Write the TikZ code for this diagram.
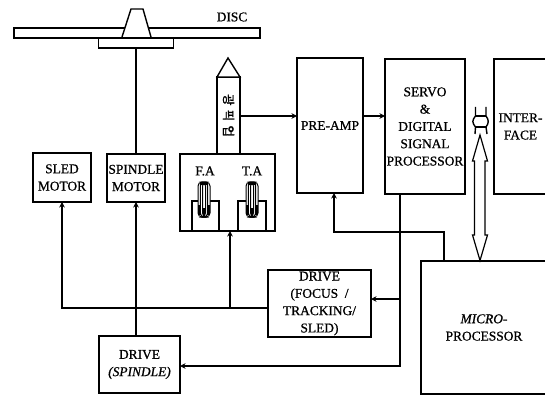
\documentclass[tikz,border=0pt]{standalone}
\usepackage{fontspec}
\usepackage{graphicx}
\setmainfont[RawFeature={embolden=0.8}]{Liberation Serif}
\newfontfamily\kofont[Script=Hangul,RawFeature={embolden=1.5}]{Noto Sans CJK KR}
\usetikzlibrary{arrows.meta}
\tikzset{
  blockbox/.style={draw=black,line width=1.4pt,fill=white,inner sep=0pt,outer sep=0pt,align=center,
     font=\fontsize{13.4}{17.3}\selectfont},
  conn/.style={draw=black,line width=1.5pt},
  arr/.style={conn,-{Stealth[length=5.5pt,width=5.5pt]}},
  lbl/.style={inner sep=0pt,font=\fontsize{13.4}{15}\selectfont},
  part/.style={draw=black,line width=1.4pt,fill=white,line join=miter},
  coilwire/.style={draw=black,line width=1pt,rounded corners=4pt},
}
\newcommand{\blk}[6][]{\node[blockbox,#1,minimum width=#4pt,minimum height=#5pt] (#2) at (#3) {#6};}
\newcommand{\coil}[1]{%
  \draw[coilwire,fill=white] (#1-6,182) rectangle (#1+6,217);
  \draw[coilwire] (#1-3.7,182) rectangle (#1+3.7,217);
  \draw[coilwire] (#1-1.5,182) rectangle (#1+1.5,217);
  \fill[black] (#1-6,205) rectangle (#1-3,215);
  \fill[black] (#1+3,205) rectangle (#1+6,215);
  \fill[black] (#1-1,208) rectangle (#1+1,216);
  \fill[black] (#1-4,182) rectangle (#1+4,184.5);
}
\begin{document}
\begin{tikzpicture}[x=1pt,y=-1pt]
\useasboundingbox (0,0) rectangle (545,398);
\clip (0,0) rectangle (545,398);
\fill[white] (0,0) rectangle (545,398);

% disc
\draw[part] (14,28) rectangle (260,38);
\fill[white] (122,37) -- (131,9) -- (143,9) -- (151,37) -- cycle;
\draw[part,fill=none] (122,37) -- (131,9) -- (143,9) -- (151,37);
\blk[line width=1.9pt]{plate}{136,43.3}{75}{10}{}
\node[lbl] (disc) at (232,17) {DISC};

% blocks
\blk{sled}{62,177.5}{58}{49}{SLED\\MOTOR}
\blk{spmotor}{136,178}{58}{48}{SPINDLE\\MOTOR}
\blk{actuator}{227.5,192.5}{95}{77}{}
\blk{pickup}{228.5,115.5}{23}{77}{\rotatebox[origin=c]{-90}{\kofont\fontsize{12.5}{13}\selectfont 광\,\,픽\,\,업}}
\blk{preamp}{330,125.5}{66}{135}{PRE-AMP}
\blk{servo}{425,126.5}{80}{135}{SERVO\\\&\\DIGITAL\\SIGNAL\\PROCESSOR}
\blk{iface}{520.5,126.5}{53}{135}{INTER-\\FACE}
\blk{micro}{484,327.5}{126}{133}{\textit{MICRO-}\\PROCESSOR}
\blk{drvfocus}{319.5,303.5}{103}{67}{DRIVE\\(FOCUS\ \ /\\TRACKING/\\SLED)}
\blk{drvspindle}{139.5,364.5}{81}{57}{DRIVE\\\textit{(SPINDLE)}}

% pickup tip
\draw[part] (pickup.north west) -- (228,58) -- (pickup.north east) -- cycle;

% actuator details
\node[lbl] (fa) at (205,171) {F.A};
\node[lbl] (ta) at (252,171) {T.A};
\draw[part,fill=none] (192,231) -- (192,201) -- (219,201) -- (219,231);
\draw[part,fill=none] (238,231) -- (238,201) -- (266,201) -- (266,231);
\coil{204}
\coil{252}

% connectors
\draw[conn] (plate.south) -- (plate.south |- spmotor.north);
\draw[arr] (pickup.east |- 0,116) -- (preamp.west |- 0,116);
\draw[arr] (preamp.east |- 0,116) -- (servo.west |- 0,116);
\coordinate (busend) at (drvfocus.west |- 0,308);
\draw[arr] (busend) -- (62,308) -- (62,0 |- sled.south);
\draw[arr] (230,308) -- (230,0 |- actuator.south);
\draw[arr] (136,0 |- drvspindle.north) -- (136,0 |- spmotor.south);
\draw[arr] (400,0 |- servo.south) -- (400,366) -- (drvspindle.east |- 0,366);
\draw[arr] (400,299) -- (drvfocus.east |- 0,299);
\draw[arr] (444,0 |- micro.north) -- (444,232) -- (334,232) -- (334,0 |- preamp.south);

% hollow double arrow
\coordinate (busT) at (480,135);
\coordinate (busB) at (480,260.5);
\draw[part,line width=1.2pt] (busT) -- ++(7.5,26) -- ++(-2.5,0) -- ++(0,74) -- ++(2.5,0) -- (busB) -- ++(-7.5,-25.5) -- ++(2,0) -- ++(0,-74) -- ++(-2,0) -- cycle;

% connector
\draw[part,fill=none] (475.5,107) -- (475.5,116) .. controls (472,120) and (472,123) .. (475.5,127) -- (475,134);
\draw[part,fill=none] (486,107) -- (486,116) .. controls (489,120) and (489,123) .. (486,127) -- (487,134);
\draw[conn] (475.5,116) -- (486,116);
\draw[conn] (475.5,127) -- (486,127);
\end{tikzpicture}
\end{document}
